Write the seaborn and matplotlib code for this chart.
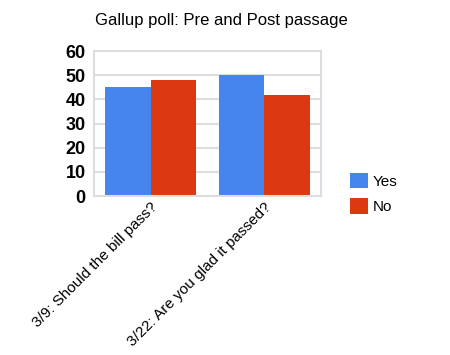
import matplotlib
matplotlib.use("Agg")
import matplotlib.pyplot as plt
import seaborn as sns
import pandas as pd
from matplotlib.patches import Patch

categories = ["3/9: Should the bill pass?", "3/22: Are you glad it passed?"]
series = ["Yes", "No"]
yes_values = [45, 50]
no_values = [48, 42]
colors = ["#4684EE", "#DC3912"]

df = pd.DataFrame({
    "question": categories * 2,
    "answer": ["Yes"] * 2 + ["No"] * 2,
    "value": yes_values + no_values,
})

sns.set_style("white")
plt.rcParams["font.family"] = ["Liberation Sans", "DejaVu Sans"]
plt.rcParams["text.color"] = "black"
plt.rcParams["xtick.color"] = "black"
plt.rcParams["ytick.color"] = "black"

fig = plt.figure(figsize=(4.5, 3.55), dpi=100)
ax = fig.add_axes([94/450, 1-196/355, (321-94)/450, (196-51)/355])
sns.barplot(data=df, x="question", y="value", hue="answer", palette=colors,
            hue_order=series, order=categories, width=0.8, saturation=1,
            ax=ax, legend=False, edgecolor="none", linewidth=0)

ax.set_ylim(0, 60)
ax.set_xlim(-0.5, 1.5)
ax.set_yticks(range(0, 61, 10))
ax.set_yticklabels([str(v) for v in range(0, 61, 10)], fontsize=13, fontweight="bold")
ax.yaxis.grid(True, color="#dddddd", linewidth=1.5)
ax.set_axisbelow(True)
for s in ax.spines.values():
    s.set_color("#dddddd")
    s.set_linewidth(1.5)
ax.set_xlabel("")
ax.set_ylabel("")
ax.set_xticks([0, 1])
ax.set_xticklabels(categories, rotation=45, ha="right", rotation_mode="anchor", fontsize=11)
ax.tick_params(axis="y", length=4, color="#dddddd", labelcolor="black", width=1.5, pad=2)
ax.tick_params(axis="x", length=0, pad=3, labelcolor="black")
ax.set_xticks([-0.5, 0.5, 1.5], minor=True)
ax.tick_params(axis="x", which="minor", length=4, color="#dddddd", width=1.5)

handles = [Patch(facecolor=c, edgecolor="none") for c in colors]
fig.legend(handles, series, loc="upper left", bbox_to_anchor=(336/450, 1-159/355),
           frameon=False, fontsize=11, handlelength=1.2, handleheight=1.2,
           handletextpad=0.3, labelspacing=0.6, labelcolor="black")

fig.text(221/450, 1-21/355, "Gallup poll: Pre and Post passage", ha="center", va="center",
         fontsize=12, color="black")

fig.savefig("out.png", dpi=100)
